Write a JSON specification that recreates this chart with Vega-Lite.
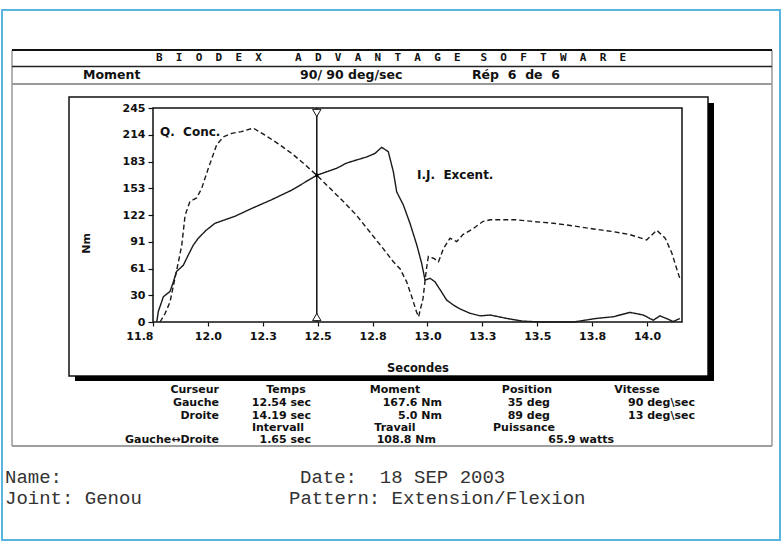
{
  "$schema": "https://vega.github.io/schema/vega-lite/v6.json",
  "width": 529,
  "height": 214,
  "autosize": {"type": "none"},
  "padding": {"left": 153, "top": 108, "right": 102, "bottom": 222},
  "background": "white",
  "data": {"values": [{}]},
  "config": {
    "view": {"stroke": "#111", "strokeWidth": 1.5},
    "axis": {"labelOverlap": false, "labelBound": false},
    "text": {"font": "DejaVu Sans", "fontWeight": "bold", "fontSize": 11, "baseline": "middle", "align": "left", "color": "#111"}
  },
  "datasets": {
    "curves": [
      {"series": "Q. Conc.", "t": 11.832, "nm": 0},
      {"series": "Q. Conc.", "t": 11.855, "nm": 10},
      {"series": "Q. Conc.", "t": 11.877, "nm": 23},
      {"series": "Q. Conc.", "t": 11.899, "nm": 50},
      {"series": "Q. Conc.", "t": 11.915, "nm": 69},
      {"series": "Q. Conc.", "t": 11.93, "nm": 88},
      {"series": "Q. Conc.", "t": 11.945, "nm": 122},
      {"series": "Q. Conc.", "t": 11.967, "nm": 138},
      {"series": "Q. Conc.", "t": 11.997, "nm": 142},
      {"series": "Q. Conc.", "t": 12.02, "nm": 153},
      {"series": "Q. Conc.", "t": 12.05, "nm": 176},
      {"series": "Q. Conc.", "t": 12.088, "nm": 203},
      {"series": "Q. Conc.", "t": 12.118, "nm": 212},
      {"series": "Q. Conc.", "t": 12.156, "nm": 216},
      {"series": "Q. Conc.", "t": 12.2, "nm": 218},
      {"series": "Q. Conc.", "t": 12.253, "nm": 222},
      {"series": "Q. Conc.", "t": 12.306, "nm": 214},
      {"series": "Q. Conc.", "t": 12.366, "nm": 204},
      {"series": "Q. Conc.", "t": 12.427, "nm": 193},
      {"series": "Q. Conc.", "t": 12.487, "nm": 180},
      {"series": "Q. Conc.", "t": 12.54, "nm": 168},
      {"series": "Q. Conc.", "t": 12.6, "nm": 153},
      {"series": "Q. Conc.", "t": 12.66, "nm": 138},
      {"series": "Q. Conc.", "t": 12.72, "nm": 122},
      {"series": "Q. Conc.", "t": 12.78, "nm": 103},
      {"series": "Q. Conc.", "t": 12.84, "nm": 84},
      {"series": "Q. Conc.", "t": 12.886, "nm": 69},
      {"series": "Q. Conc.", "t": 12.916, "nm": 61},
      {"series": "Q. Conc.", "t": 12.946, "nm": 46},
      {"series": "Q. Conc.", "t": 12.969, "nm": 29},
      {"series": "Q. Conc.", "t": 12.99, "nm": 12},
      {"series": "Q. Conc.", "t": 13.0, "nm": 6},
      {"series": "Q. Conc.", "t": 13.02, "nm": 27},
      {"series": "Q. Conc.", "t": 13.035, "nm": 60},
      {"series": "Q. Conc.", "t": 13.044, "nm": 75},
      {"series": "Q. Conc.", "t": 13.067, "nm": 73},
      {"series": "Q. Conc.", "t": 13.09, "nm": 69},
      {"series": "Q. Conc.", "t": 13.112, "nm": 84},
      {"series": "Q. Conc.", "t": 13.142, "nm": 96},
      {"series": "Q. Conc.", "t": 13.172, "nm": 92},
      {"series": "Q. Conc.", "t": 13.2, "nm": 100},
      {"series": "Q. Conc.", "t": 13.247, "nm": 107},
      {"series": "Q. Conc.", "t": 13.29, "nm": 115},
      {"series": "Q. Conc.", "t": 13.323, "nm": 117},
      {"series": "Q. Conc.", "t": 13.368, "nm": 117},
      {"series": "Q. Conc.", "t": 13.443, "nm": 117},
      {"series": "Q. Conc.", "t": 13.519, "nm": 115},
      {"series": "Q. Conc.", "t": 13.61, "nm": 113},
      {"series": "Q. Conc.", "t": 13.7, "nm": 110},
      {"series": "Q. Conc.", "t": 13.79, "nm": 106.5},
      {"series": "Q. Conc.", "t": 13.88, "nm": 103.4},
      {"series": "Q. Conc.", "t": 13.955, "nm": 100},
      {"series": "Q. Conc.", "t": 14.03, "nm": 94},
      {"series": "Q. Conc.", "t": 14.076, "nm": 105},
      {"series": "Q. Conc.", "t": 14.114, "nm": 96},
      {"series": "Q. Conc.", "t": 14.144, "nm": 79},
      {"series": "Q. Conc.", "t": 14.166, "nm": 61},
      {"series": "Q. Conc.", "t": 14.18, "nm": 50},
      {"series": "I.J. Excent.", "t": 11.817, "nm": 0},
      {"series": "I.J. Excent.", "t": 11.824, "nm": 12},
      {"series": "I.J. Excent.", "t": 11.847, "nm": 29},
      {"series": "I.J. Excent.", "t": 11.877, "nm": 35},
      {"series": "I.J. Excent.", "t": 11.892, "nm": 46},
      {"series": "I.J. Excent.", "t": 11.907, "nm": 58},
      {"series": "I.J. Excent.", "t": 11.937, "nm": 65},
      {"series": "I.J. Excent.", "t": 11.96, "nm": 77},
      {"series": "I.J. Excent.", "t": 11.982, "nm": 88},
      {"series": "I.J. Excent.", "t": 12.005, "nm": 96},
      {"series": "I.J. Excent.", "t": 12.04, "nm": 105},
      {"series": "I.J. Excent.", "t": 12.08, "nm": 113},
      {"series": "I.J. Excent.", "t": 12.125, "nm": 117},
      {"series": "I.J. Excent.", "t": 12.17, "nm": 121},
      {"series": "I.J. Excent.", "t": 12.246, "nm": 130},
      {"series": "I.J. Excent.", "t": 12.336, "nm": 140},
      {"series": "I.J. Excent.", "t": 12.427, "nm": 151},
      {"series": "I.J. Excent.", "t": 12.54, "nm": 168},
      {"series": "I.J. Excent.", "t": 12.585, "nm": 172},
      {"series": "I.J. Excent.", "t": 12.63, "nm": 176},
      {"series": "I.J. Excent.", "t": 12.675, "nm": 182},
      {"series": "I.J. Excent.", "t": 12.72, "nm": 185.5},
      {"series": "I.J. Excent.", "t": 12.766, "nm": 189},
      {"series": "I.J. Excent.", "t": 12.803, "nm": 193},
      {"series": "I.J. Excent.", "t": 12.833, "nm": 200},
      {"series": "I.J. Excent.", "t": 12.863, "nm": 195},
      {"series": "I.J. Excent.", "t": 12.886, "nm": 172},
      {"series": "I.J. Excent.", "t": 12.901, "nm": 149},
      {"series": "I.J. Excent.", "t": 12.931, "nm": 134},
      {"series": "I.J. Excent.", "t": 12.961, "nm": 113},
      {"series": "I.J. Excent.", "t": 12.992, "nm": 88},
      {"series": "I.J. Excent.", "t": 13.014, "nm": 67},
      {"series": "I.J. Excent.", "t": 13.029, "nm": 48},
      {"series": "I.J. Excent.", "t": 13.052, "nm": 50},
      {"series": "I.J. Excent.", "t": 13.074, "nm": 46},
      {"series": "I.J. Excent.", "t": 13.097, "nm": 37},
      {"series": "I.J. Excent.", "t": 13.127, "nm": 25},
      {"series": "I.J. Excent.", "t": 13.157, "nm": 19.5},
      {"series": "I.J. Excent.", "t": 13.187, "nm": 15},
      {"series": "I.J. Excent.", "t": 13.232, "nm": 10},
      {"series": "I.J. Excent.", "t": 13.278, "nm": 7},
      {"series": "I.J. Excent.", "t": 13.323, "nm": 8},
      {"series": "I.J. Excent.", "t": 13.4, "nm": 4},
      {"series": "I.J. Excent.", "t": 13.47, "nm": 1},
      {"series": "I.J. Excent.", "t": 13.55, "nm": 0},
      {"series": "I.J. Excent.", "t": 13.7, "nm": 0},
      {"series": "I.J. Excent.", "t": 13.8, "nm": 4},
      {"series": "I.J. Excent.", "t": 13.88, "nm": 6},
      {"series": "I.J. Excent.", "t": 13.955, "nm": 11},
      {"series": "I.J. Excent.", "t": 14.015, "nm": 8},
      {"series": "I.J. Excent.", "t": 14.06, "nm": 2},
      {"series": "I.J. Excent.", "t": 14.09, "nm": 7},
      {"series": "I.J. Excent.", "t": 14.12, "nm": 4},
      {"series": "I.J. Excent.", "t": 14.15, "nm": 0.5},
      {"series": "I.J. Excent.", "t": 14.18, "nm": 4}
    ]
  },
  "layer": [
    {
      "data": {"name": "curves"},
      "mark": {"type": "line", "color": "#1a1a1a", "strokeWidth": 1.4},
      "encoding": {
        "x": {
          "field": "t", "type": "quantitative",
          "scale": {"domain": [11.8, 14.19], "nice": false, "zero": false},
          "axis": {
            "title": "Secondes",
            "values": [11.8, 12.048, 12.296, 12.544, 12.792, 13.04, 13.288, 13.536, 13.784, 14.032],
            "tickCount": 20,
            "format": ".1f",
            "domain": false, "grid": false,
            "tickSize": 4, "tickColor": "#111", "tickWidth": 1.2,
            "labelFont": "DejaVu Sans", "labelFontWeight": "bold", "labelFontSize": 11, "labelColor": "#111",
            "labelPadding": 4, "labelFlush": false, "labelOverlap": false,
            "labelAlign": {"condition": {"test": "datum.value < 11.85", "value": "right"}, "value": "center"},
            "titleFont": "DejaVu Sans", "titleFontWeight": "bold", "titleFontSize": 11.5, "titleColor": "#111",
            "titleY": 46, "titleBaseline": "middle"
          }
        },
        "y": {
          "field": "nm", "type": "quantitative",
          "scale": {"domain": [0, 245], "nice": false, "zero": false},
          "axis": {
            "title": "Nm",
            "values": [0, 30.625, 61.25, 91.875, 122.5, 153.125, 183.75, 214.375, 245],
            "tickCount": 20,
            "labelExpr": "floor(datum.value)",
            "domain": false, "grid": false,
            "tickSize": 5, "tickColor": "#111", "tickWidth": 1.2,
            "labelFont": "DejaVu Sans", "labelFontWeight": "bold", "labelFontSize": 11, "labelColor": "#111",
            "labelPadding": 3, "labelOverlap": false,
            "titleFont": "DejaVu Sans", "titleFontWeight": "bold", "titleFontSize": 11, "titleColor": "#111",
            "titleX": -67, "titleY": 135, "titleAngle": -90, "titleAlign": "center", "titleBaseline": "middle"
          }
        },
        "strokeDash": {
          "field": "series", "type": "nominal",
          "scale": {"domain": ["Q. Conc.", "I.J. Excent."], "range": [[5, 3], [1, 0]]},
          "legend": null
        }
      }
    },
    {
      "mark": {"type": "rect", "fillOpacity": 0, "stroke": "#5ab4e0", "strokeWidth": 2},
      "encoding": {
        "x": {"datum": 11.1178, "type": "quantitative"},
        "x2": {"datum": 14.6328},
        "y": {"datum": 357.2, "type": "quantitative"},
        "y2": {"datum": -249.58}
      }
    },
    {
      "mark": {"type": "rect", "fillOpacity": 0, "stroke": "#666", "strokeWidth": 1},
      "encoding": {
        "x": {"datum": 11.16297, "type": "quantitative"},
        "x2": {"datum": 14.5966},
        "y": {"datum": 311.4, "type": "quantitative"},
        "y2": {"datum": -141.96}
      }
    },
    {
      "mark": {"type": "rule", "color": "#111", "strokeWidth": 2},
      "encoding": {"x": {"datum": 11.16297, "type": "quantitative"}, "x2": {"datum": 14.5966}, "y": {"datum": 311.4, "type": "quantitative"}}
    },
    {
      "mark": {"type": "rule", "color": "#222", "strokeWidth": 1.5},
      "encoding": {"x": {"datum": 11.16297, "type": "quantitative"}, "x2": {"datum": 14.5966}, "y": {"datum": 292.51, "type": "quantitative"}}
    },
    {
      "mark": {"type": "rule", "color": "#999", "strokeWidth": 2},
      "encoding": {"x": {"datum": 11.16297, "type": "quantitative"}, "x2": {"datum": 14.5966}, "y": {"datum": 272.48, "type": "quantitative"}}
    },
    {
      "mark": {"type": "rule", "color": "#999", "strokeWidth": 1.5},
      "encoding": {"x": {"datum": 11.16297, "type": "quantitative"}, "x2": {"datum": 14.5966}, "y": {"datum": -141.96, "type": "quantitative"}}
    },
    {
      "mark": {"type": "rect", "fillOpacity": 0, "stroke": "#111", "strokeWidth": 1.5},
      "encoding": {
        "x": {"datum": 11.4205, "type": "quantitative"},
        "x2": {"datum": 14.3075},
        "y": {"datum": 257.59, "type": "quantitative"},
        "y2": {"datum": -61.82}
      }
    },
    {
      "mark": {"type": "rect", "color": "#000"},
      "encoding": {
        "x": {"datum": 14.3075, "type": "quantitative"},
        "x2": {"datum": 14.3346},
        "y": {"datum": 250.72, "type": "quantitative"},
        "y2": {"datum": -67.55}
      }
    },
    {
      "mark": {"type": "rect", "color": "#000"},
      "encoding": {
        "x": {"datum": 11.4476, "type": "quantitative"},
        "x2": {"datum": 14.3346},
        "y": {"datum": -61.82, "type": "quantitative"},
        "y2": {"datum": -67.55}
      }
    },
    {
      "mark": {"type": "rule", "color": "#111", "strokeWidth": 1.5},
      "encoding": {"x": {"datum": 12.54, "type": "quantitative"}, "y": {"datum": 0, "type": "quantitative"}, "y2": {"datum": 245}}
    },
    {
      "mark": {"type": "point", "shape": "triangle-down", "size": 70, "filled": true, "fill": "white", "stroke": "#111", "strokeWidth": 1, "opacity": 1},
      "encoding": {"x": {"datum": 12.54, "type": "quantitative"}, "y": {"datum": 239.3, "type": "quantitative"}}
    },
    {
      "mark": {"type": "point", "shape": "triangle-up", "size": 70, "filled": true, "fill": "white", "stroke": "#111", "strokeWidth": 1, "opacity": 1},
      "encoding": {"x": {"datum": 12.54, "type": "quantitative"}, "y": {"datum": 5.7, "type": "quantitative"}}
    },
    {
      "mark": {"type": "point", "shape": "square", "size": 10, "filled": true, "color": "#000", "opacity": 1},
      "encoding": {"x": {"datum": 12.54, "type": "quantitative"}, "y": {"datum": 168, "type": "quantitative"}}
    },
    {
      "mark": {"type": "text", "text": "Q.\u00a0\u00a0Conc.", "fontSize": 12},
      "encoding": {"x": {"datum": 11.8316, "type": "quantitative"}, "y": {"datum": 217.9, "type": "quantitative"}}
    },
    {
      "mark": {"type": "text", "text": "I.J.\u00a0\u00a0Excent.", "fontSize": 12},
      "encoding": {"x": {"datum": 12.9927, "type": "quantitative"}, "y": {"datum": 168.3, "type": "quantitative"}}
    },
    {
      "mark": {"type": "text", "text": "B\u00a0\u00a0I\u00a0\u00a0O\u00a0\u00a0D\u00a0\u00a0E\u00a0\u00a0X\u00a0\u00a0\u00a0\u00a0\u00a0A\u00a0\u00a0D\u00a0\u00a0V\u00a0\u00a0A\u00a0\u00a0N\u00a0\u00a0T\u00a0\u00a0A\u00a0\u00a0G\u00a0\u00a0E\u00a0\u00a0\u00a0S\u00a0\u00a0O\u00a0\u00a0F\u00a0\u00a0T\u00a0\u00a0W\u00a0\u00a0A\u00a0\u00a0R\u00a0\u00a0E", "font": "DejaVu Sans Mono", "fontSize": 11},
      "encoding": {"x": {"datum": 11.81355, "type": "quantitative"}, "y": {"datum": 302.47, "type": "quantitative"}}
    },
    {
      "mark": {"type": "text", "text": "Moment", "fontSize": 12.5},
      "encoding": {"x": {"datum": 11.48374, "type": "quantitative"}, "y": {"datum": 282.78, "type": "quantitative"}}
    },
    {
      "mark": {"type": "text", "text": "90/ 90 deg/sec", "fontSize": 12.5},
      "encoding": {"x": {"datum": 12.46414, "type": "quantitative"}, "y": {"datum": 282.78, "type": "quantitative"}}
    },
    {
      "mark": {"type": "text", "text": "Rép\u00a0\u00a06\u00a0\u00a0de\u00a0\u00a06", "fontSize": 12.5},
      "encoding": {"x": {"datum": 13.24122, "type": "quantitative"}, "y": {"datum": 282.78, "type": "quantitative"}}
    },
    {
      "mark": {"type": "text", "text": "Curseur", "align": "right"},
      "encoding": {"x": {"datum": 12.09818, "type": "quantitative"}, "y": {"datum": -77.85, "type": "quantitative"}}
    },
    {
      "mark": {"type": "text", "text": "Temps", "align": "center"},
      "encoding": {"x": {"datum": 12.40089, "type": "quantitative"}, "y": {"datum": -77.85, "type": "quantitative"}}
    },
    {
      "mark": {"type": "text", "text": "Moment", "align": "center"},
      "encoding": {"x": {"datum": 12.89334, "type": "quantitative"}, "y": {"datum": -77.85, "type": "quantitative"}}
    },
    {
      "mark": {"type": "text", "text": "Position", "align": "center"},
      "encoding": {"x": {"datum": 13.4897, "type": "quantitative"}, "y": {"datum": -77.85, "type": "quantitative"}}
    },
    {
      "mark": {"type": "text", "text": "Vitesse", "align": "center"},
      "encoding": {"x": {"datum": 13.98667, "type": "quantitative"}, "y": {"datum": -77.85, "type": "quantitative"}}
    },
    {
      "mark": {"type": "text", "text": "Gauche", "align": "right"},
      "encoding": {"x": {"datum": 12.09818, "type": "quantitative"}, "y": {"datum": -93.08, "type": "quantitative"}}
    },
    {
      "mark": {"type": "text", "text": "12.54 sec", "align": "right"},
      "encoding": {"x": {"datum": 12.51383, "type": "quantitative"}, "y": {"datum": -93.08, "type": "quantitative"}}
    },
    {
      "mark": {"type": "text", "text": "167.6 Nm", "align": "right"},
      "encoding": {"x": {"datum": 13.10567, "type": "quantitative"}, "y": {"datum": -93.08, "type": "quantitative"}}
    },
    {
      "mark": {"type": "text", "text": "35 deg", "align": "right"},
      "encoding": {"x": {"datum": 13.59361, "type": "quantitative"}, "y": {"datum": -93.08, "type": "quantitative"}}
    },
    {
      "mark": {"type": "text", "text": "90 deg\\sec", "align": "right"},
      "encoding": {"x": {"datum": 14.24874, "type": "quantitative"}, "y": {"datum": -93.08, "type": "quantitative"}}
    },
    {
      "mark": {"type": "text", "text": "Droite", "align": "right"},
      "encoding": {"x": {"datum": 12.09818, "type": "quantitative"}, "y": {"datum": -107.27, "type": "quantitative"}}
    },
    {
      "mark": {"type": "text", "text": "14.19 sec", "align": "right"},
      "encoding": {"x": {"datum": 12.51383, "type": "quantitative"}, "y": {"datum": -107.27, "type": "quantitative"}}
    },
    {
      "mark": {"type": "text", "text": "5.0 Nm", "align": "right"},
      "encoding": {"x": {"datum": 13.10567, "type": "quantitative"}, "y": {"datum": -107.27, "type": "quantitative"}}
    },
    {
      "mark": {"type": "text", "text": "89 deg", "align": "right"},
      "encoding": {"x": {"datum": 13.59361, "type": "quantitative"}, "y": {"datum": -107.27, "type": "quantitative"}}
    },
    {
      "mark": {"type": "text", "text": "13 deg\\sec", "align": "right"},
      "encoding": {"x": {"datum": 14.24874, "type": "quantitative"}, "y": {"datum": -107.27, "type": "quantitative"}}
    },
    {
      "mark": {"type": "text", "text": "Intervall", "align": "center"},
      "encoding": {"x": {"datum": 12.36474, "type": "quantitative"}, "y": {"datum": -121.01, "type": "quantitative"}}
    },
    {
      "mark": {"type": "text", "text": "Travail", "align": "center"},
      "encoding": {"x": {"datum": 12.89334, "type": "quantitative"}, "y": {"datum": -121.01, "type": "quantitative"}}
    },
    {
      "mark": {"type": "text", "text": "Puissance", "align": "center"},
      "encoding": {"x": {"datum": 13.47615, "type": "quantitative"}, "y": {"datum": -121.01, "type": "quantitative"}}
    },
    {
      "mark": {"type": "text", "text": "Gauche↔Droite", "align": "right"},
      "encoding": {"x": {"datum": 12.09818, "type": "quantitative"}, "y": {"datum": -135.09, "type": "quantitative"}}
    },
    {
      "mark": {"type": "text", "text": "1.65 sec", "align": "right"},
      "encoding": {"x": {"datum": 12.51383, "type": "quantitative"}, "y": {"datum": -135.09, "type": "quantitative"}}
    },
    {
      "mark": {"type": "text", "text": "108.8 Nm", "align": "right"},
      "encoding": {"x": {"datum": 13.07857, "type": "quantitative"}, "y": {"datum": -135.09, "type": "quantitative"}}
    },
    {
      "mark": {"type": "text", "text": "65.9 watts", "align": "right"},
      "encoding": {"x": {"datum": 13.88276, "type": "quantitative"}, "y": {"datum": -135.09, "type": "quantitative"}}
    },
    {
      "mark": {"type": "text", "text": "Name:", "font": "Liberation Mono", "fontWeight": "normal", "fontSize": 19, "color": "#333"},
      "encoding": {"x": {"datum": 11.13134, "type": "quantitative"}, "y": {"datum": -177.45, "type": "quantitative"}}
    },
    {
      "mark": {"type": "text", "text": "Joint: Genou", "font": "Liberation Mono", "fontWeight": "normal", "fontSize": 19, "color": "#333"},
      "encoding": {"x": {"datum": 11.13134, "type": "quantitative"}, "y": {"datum": -201.5, "type": "quantitative"}}
    },
    {
      "mark": {"type": "text", "text": "Date:\u00a0\u00a018 SEP 2003", "font": "Liberation Mono", "fontWeight": "normal", "fontSize": 19, "color": "#333"},
      "encoding": {"x": {"datum": 12.46414, "type": "quantitative"}, "y": {"datum": -177.45, "type": "quantitative"}}
    },
    {
      "mark": {"type": "text", "text": "Pattern: Extension/Flexion", "font": "Liberation Mono", "fontWeight": "normal", "fontSize": 19, "color": "#333"},
      "encoding": {"x": {"datum": 12.41444, "type": "quantitative"}, "y": {"datum": -201.5, "type": "quantitative"}}
    }
  ]
}
